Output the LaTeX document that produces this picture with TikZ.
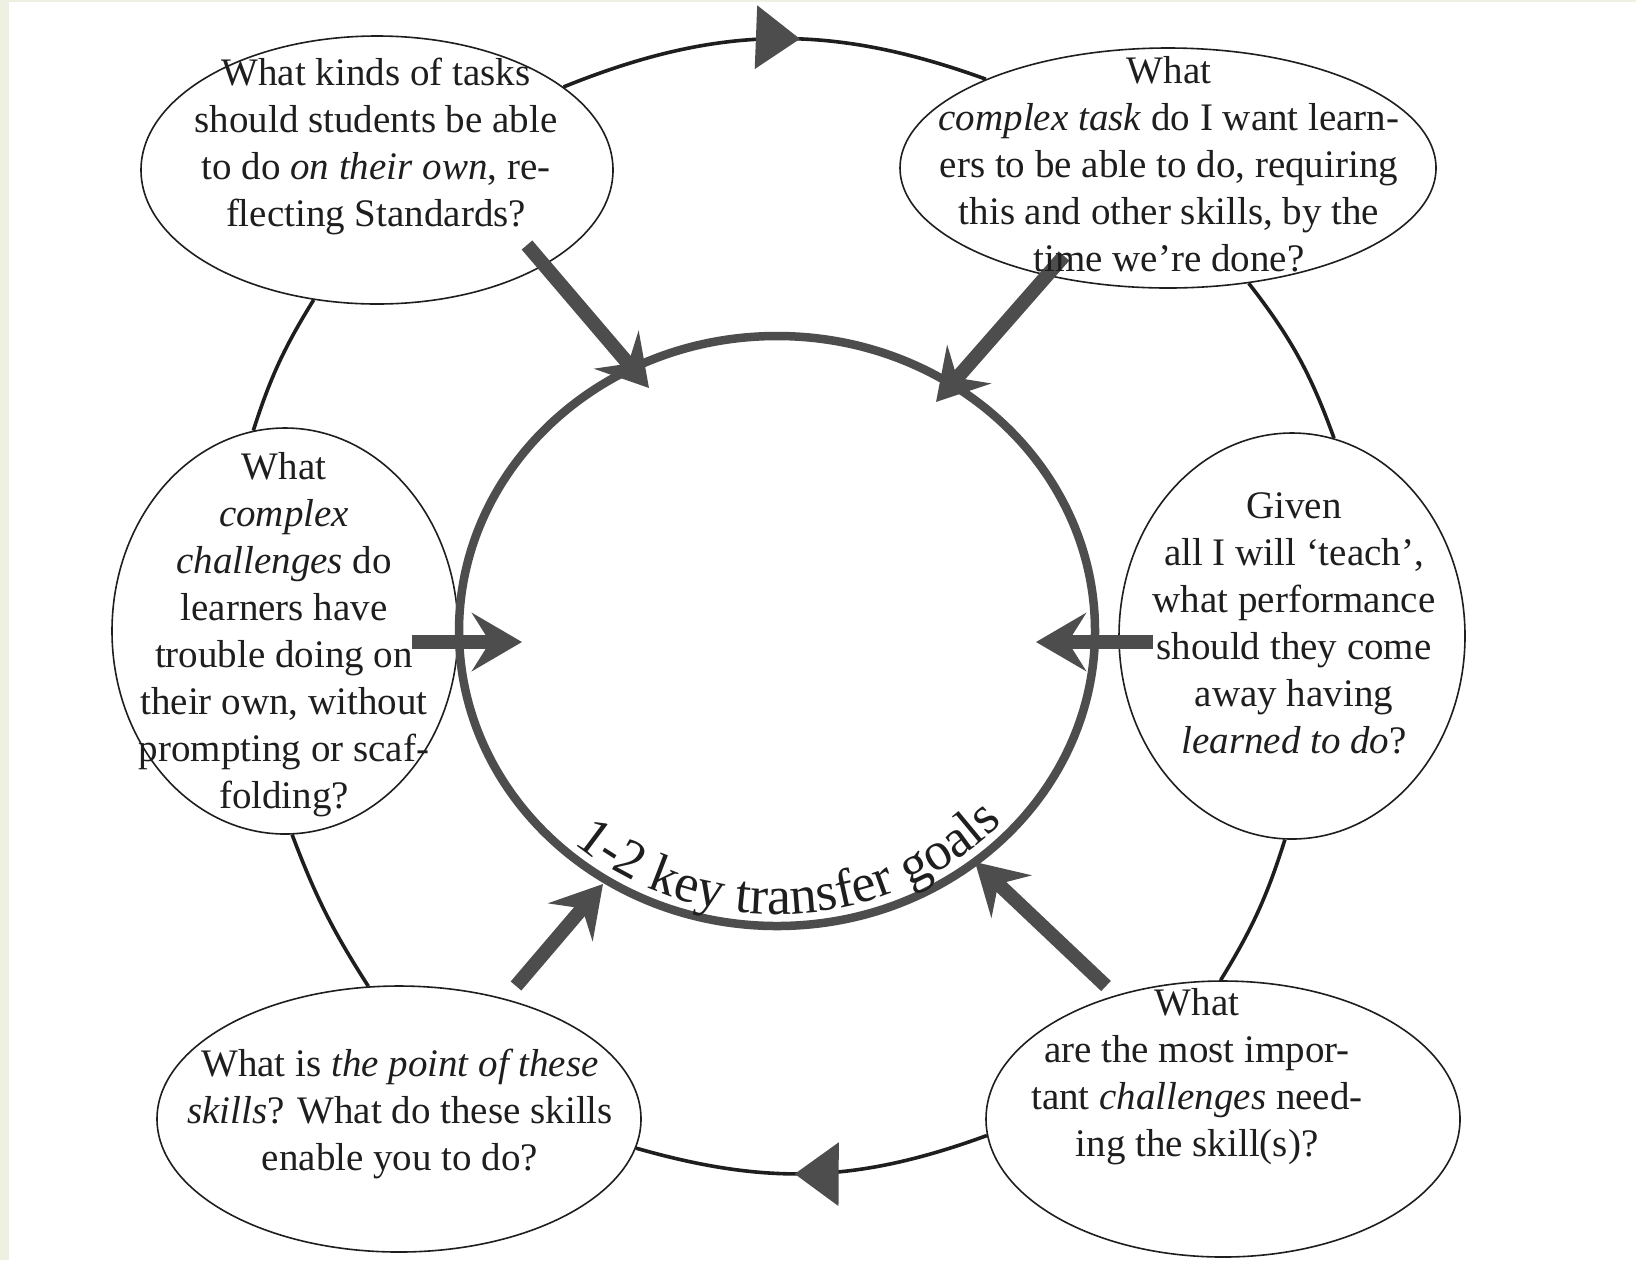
\documentclass[tikz,border=0pt]{standalone}
\usepackage{fontspec}
\setmainfont{Liberation Serif}
\usetikzlibrary{shapes.geometric,arrows.meta,decorations.markings,decorations.text,calc}
\definecolor{ink}{HTML}{1E1E1E}
\definecolor{arrowgray}{HTML}{4D4D4D}
\definecolor{band}{HTML}{EEF1E1}
\newcommand\qfont{\fontsize{19.5}{23.5}\selectfont}
\newcommand\curvefont{\fontsize{27}{30}\selectfont}
\begin{document}
\begin{tikzpicture}[x=0.5pt,y=-0.5pt,
  bubble/.style={draw=ink, line width=0.8pt, ellipse, inner sep=0pt},
  qtext/.style={text=ink, align=center, font=\qfont, inner sep=0pt},
  ring/.style={draw=ink, line width=1.8pt},
  ringarrow/.style={ring, postaction={decorate}, decoration={markings, mark=at position #1 with {\arrow{Triangle[length=22pt,width=31.5pt,fill=arrowgray,color=arrowgray]}}}},
  bigarrow/.style={draw=arrowgray, line width=7pt, -{Stealth[length=25pt,width=29pt,inset=9pt]}},
]
\useasboundingbox (0,0) rectangle (1636,1260);
\fill[white] (0,0) rectangle (1636,1260);
\fill[band] (0,0) rectangle (9,1260);
\fill[band] (0,0) rectangle (1636,2);

% question bubbles
\node[bubble, minimum width=236pt, minimum height=134pt] (E1) at (377,170) {};
\node[bubble, minimum width=268pt, minimum height=120pt] (E2) at (1168,168) {};
\node[bubble, minimum width=173pt, minimum height=203pt] (E3) at (285,631) {};
\node[bubble, minimum width=173pt, minimum height=203pt] (E4) at (1292,636) {};
\node[bubble, minimum width=242pt, minimum height=133pt] (E5) at (399,1119) {};
\node[bubble, minimum width=237pt, minimum height=138pt] (E6) at (1223,1119) {};

% outer cycle
\draw[ringarrow=0.56] (E1.24) to[bend left=21] (E2.154);
\draw[ring] (E2.-55) to[bend left=9] (E4.78);
\draw[ring] (E4.268) to[bend left=7] (E6.91);
\draw[ringarrow=0.55] (E6.184) to[bend left=18] (E5.-7);
\draw[ring] (E5.103) to[bend left=6] (E3.-88);
\draw[ring] (E3.99) to[bend left=7] (E1.244);

% central goal circle
\node[draw=arrowgray, line width=4.25pt, ellipse, inner sep=0pt, minimum width=318pt, minimum height=295pt] (C) at (777,631) {};
\path[decorate, decoration={text along path, text={|\curvefont\color{ink}|1-2 key transfer goals}, text align=center}]
  ($(C.center)+(147:306 and 283)$) arc[start angle=147, end angle=27, x radius=306, y radius=283];

% arrows into the goals
\draw[bigarrow] ($(E1.center)+(150,75)$) -- ($(C.center)+(-128,-243)$);
\draw[bigarrow] ($(E2.center)+(-104,88)$) -- ($(C.center)+(159,-229)$);
\draw[bigarrow] ($(E3.center)+(127,11)$) -- ($(C.center)+(-255,11)$);
\draw[bigarrow] ($(E4.center)+(-139,6)$) -- ($(C.center)+(259,11)$);
\draw[bigarrow] ($(E5.center)+(117,-133)$) -- ($(C.center)+(-174,253)$);
\draw[bigarrow] ($(E6.center)+(-117,-133)$) -- ($(C.center)+(198,231)$);

% question texts
\node[qtext] (T1) at (376,146) {What kinds of tasks\\should students be able\\to do \textit{on their own}, re-\\flecting Standards?};
\node[qtext] (T2) at (1169,164) {What\\\textit{complex task} do I want learn-\\ers to be able to do, requiring\\this and other skills, by the\\time we’re done?};
\node[qtext] (T3) at (284,635) {What\\\textit{complex}\\\textit{challenges} do\\learners have\\trouble doing on\\their own, without\\prompting or scaf-\\folding?};
\node[qtext] (T4) at (1294,623) {Given\\all I will ‘teach’,\\what performance\\should they come\\away having\\\textit{learned to do}?};
\node[qtext] (T5) at (400,1114) {What is \textit{the point of these}\\\textit{skills}? What do these skills\\enable you to do?};
\node[qtext] (T6) at (1197,1077) {What\\are the most impor-\\tant \textit{challenges} need-\\ing the skill(s)?};
\end{tikzpicture}
\end{document}
